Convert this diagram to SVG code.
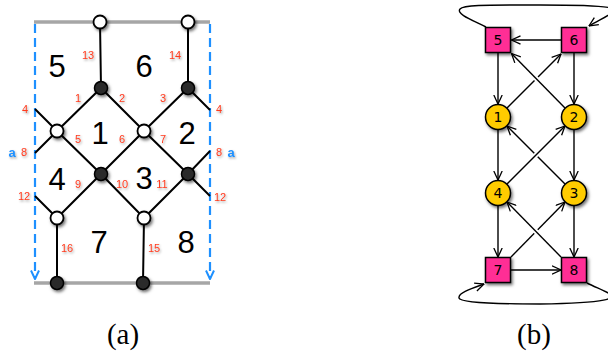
<svg xmlns="http://www.w3.org/2000/svg" width="608" height="354" viewBox="0 0 608 354">
<defs>
  <filter id="sh" x="-50%" y="-50%" width="200%" height="200%">
    <feDropShadow dx="1.5" dy="2" stdDeviation="1.6" flood-color="#000" flood-opacity="0.55"/>
  </filter>
  <filter id="tsh" x="-50%" y="-50%" width="200%" height="200%">
    <feDropShadow dx="1" dy="1.5" stdDeviation="1" flood-color="#000" flood-opacity="0.35"/>
  </filter>
  <marker id="ar" viewBox="0 0 10 10" refX="9.5" refY="5" markerWidth="10" markerHeight="10" markerUnits="userSpaceOnUse" orient="auto">
    <path d="M0.5,0.8 L9.5,5 L0.5,9.2" fill="none" stroke="#000" stroke-width="1.3"/>
  </marker>
  <marker id="bar" viewBox="0 0 10 10" refX="5" refY="9.5" markerWidth="10" markerHeight="10" markerUnits="userSpaceOnUse" orient="0">
    <path d="M1,1 L5,9.5 L9,1" fill="none" stroke="#1e90ff" stroke-width="2"/>
  </marker>
</defs>
<style>
  .edge{stroke:#000;stroke-width:2;fill:none}
  .bound{stroke:#a6a6a6;stroke-width:3.5;fill:none}
  .dash{stroke:#1e90ff;stroke-width:2.2;stroke-dasharray:9 5;fill:none}
  .wn{fill:#fff;stroke:#000;stroke-width:1.8;filter:url(#sh)}
  .bn{fill:#2a2a2a;stroke:#000;stroke-width:1.5;filter:url(#sh)}
  .face{font-family:"Liberation Sans",Arial,sans-serif;font-size:31px;fill:#000;text-anchor:middle}
  .el{font-family:"Liberation Sans",Arial,sans-serif;font-size:11px;fill:#ff3a1e;text-anchor:middle;filter:url(#tsh)}
  .al{font-family:"Liberation Sans",Arial,sans-serif;font-size:13px;font-weight:bold;fill:#1e90ff;text-anchor:middle;filter:url(#tsh)}
  .g{stroke:#000;stroke-width:1.4;fill:none}
  .gm{stroke:#000;stroke-width:1.4;fill:none;marker-end:url(#ar)}
  .halo{stroke:#fff;stroke-width:5;fill:none}
  .sq{fill:#ff2d95;stroke:#000;stroke-width:1.5;filter:url(#sh)}
  .ci{fill:#ffcc00;stroke:#000;stroke-width:1.5;filter:url(#sh)}
  .nl{font-family:"DejaVu Sans",sans-serif;font-size:14px;fill:#000;text-anchor:middle}
  .cap{font-family:"Liberation Serif","Times New Roman",serif;font-size:29px;fill:#000;text-anchor:middle}
</style>

<!-- ===== (a) ===== -->
<g id="a-connectors">
  <line class="bound" x1="34" y1="22" x2="210" y2="22"/>
  <line class="bound" x1="34" y1="283" x2="210" y2="283"/>
  <line class="dash" x1="35" y1="24" x2="35" y2="279" marker-end="url(#bar)"/>
  <line class="dash" x1="210" y1="24" x2="210" y2="279" marker-end="url(#bar)"/>
  <path class="edge" d="M100,22 L101,88 M188,22 L188,88"/>
  <path class="edge" d="M35,109 L57,131 L101,88 L144,131 L188,88 L210,110"/>
  <path class="edge" d="M35,153 L57,131 L101,174 L144,131 L188,174 L210,151"/>
  <path class="edge" d="M35,196 L57,218 L101,174 L144,218 L188,174 L210,196"/>
  <path class="edge" d="M57,218 L57,283 M144,218 L143,283"/>
</g>
<g id="a-nodes">
  <circle class="wn" cx="100" cy="22" r="6.5"/>
  <circle class="wn" cx="188" cy="22" r="6.5"/>
  <circle class="bn" cx="101" cy="88" r="6.5"/>
  <circle class="bn" cx="188" cy="88" r="6.5"/>
  <circle class="wn" cx="57" cy="131" r="6.5"/>
  <circle class="wn" cx="144" cy="131" r="6.5"/>
  <circle class="bn" cx="101" cy="174" r="6.5"/>
  <circle class="bn" cx="188" cy="174" r="6.5"/>
  <circle class="wn" cx="57" cy="218" r="6.5"/>
  <circle class="wn" cx="144" cy="218" r="6.5"/>
  <circle class="bn" cx="57" cy="283" r="6.5"/>
  <circle class="bn" cx="143" cy="283" r="6.5"/>
</g>
<g id="a-faces">
  <text class="face" x="57" y="77">5</text>
  <text class="face" x="144" y="77">6</text>
  <text class="face" x="100" y="144">1</text>
  <text class="face" x="187" y="144">2</text>
  <text class="face" x="57" y="190">4</text>
  <text class="face" x="144" y="189">3</text>
  <text class="face" x="99" y="253">7</text>
  <text class="face" x="186" y="253">8</text>
</g>
<g id="a-edge-labels">
  <text class="el" x="88" y="59">13</text>
  <text class="el" x="175" y="59">14</text>
  <text class="el" x="78" y="102">1</text>
  <text class="el" x="122" y="102">2</text>
  <text class="el" x="163" y="102">3</text>
  <text class="el" x="25" y="113">4</text>
  <text class="el" x="219" y="113">4</text>
  <text class="el" x="78" y="143">5</text>
  <text class="el" x="122" y="143">6</text>
  <text class="el" x="163" y="143">7</text>
  <text class="el" x="24" y="156">8</text>
  <text class="el" x="219" y="156">8</text>
  <text class="el" x="78" y="188">9</text>
  <text class="el" x="122" y="188">10</text>
  <text class="el" x="162" y="188">11</text>
  <text class="el" x="24" y="200">12</text>
  <text class="el" x="220" y="201">12</text>
  <text class="el" x="67" y="252">16</text>
  <text class="el" x="154" y="252">15</text>
  <text class="al" x="12" y="157">a</text>
  <text class="al" x="231" y="157">a</text>
</g>
<text class="cap" x="123" y="344">(a)</text>

<!-- ===== (b) ===== -->
<g id="b-connectors">
  <line class="gm" x1="561" y1="40" x2="511.5" y2="40"/>
  <line class="gm" x1="498" y1="53" x2="498" y2="104"/>
  <line class="gm" x1="574" y1="53" x2="574" y2="104"/>
  <line class="gm" x1="507" y1="108" x2="561" y2="54"/>
  <line class="halo" x1="558" y1="101" x2="518" y2="60"/>
  <line class="gm" x1="565" y1="108" x2="511.5" y2="53.5"/>
  <line class="gm" x1="498" y1="130" x2="498" y2="180"/>
  <line class="gm" x1="574" y1="130" x2="574" y2="180"/>
  <line class="gm" x1="565" y1="184" x2="507" y2="126"/>
  <line class="halo" x1="514" y1="177" x2="558" y2="133"/>
  <line class="gm" x1="507" y1="184" x2="565" y2="126"/>
  <line class="gm" x1="498" y1="206" x2="498" y2="257"/>
  <line class="gm" x1="574" y1="206" x2="574" y2="257"/>
  <line class="gm" x1="511" y1="257" x2="565" y2="202"/>
  <line class="halo" x1="554" y1="250" x2="514" y2="209"/>
  <line class="gm" x1="561" y1="257" x2="507" y2="202"/>
  <line class="gm" x1="511" y1="270" x2="561" y2="270"/>
  <path class="gm" d="M486,27 C472,20 456,14 460,9 C463,5 480,5 540,5 C580,5 610,6 613,9 C616,13 600,19 589,26"/>
  <path class="gm" d="M587,283 C595,287 605,291 610,294 C614,298 612,303 540,304 C500,304 460,303 459,298 C458,293 470,289 484,284"/>
</g>
<g id="b5"><rect class="sq" x="485.5" y="27.5" width="25" height="25"/><text class="nl" x="498" y="45">5</text></g>
<g id="b6"><rect class="sq" x="561.5" y="27.5" width="25" height="25"/><text class="nl" x="574" y="45">6</text></g>
<g id="b1"><circle class="ci" cx="498" cy="117" r="12.5"/><text class="nl" x="498" y="122">1</text></g>
<g id="b2"><circle class="ci" cx="574" cy="117" r="12.5"/><text class="nl" x="574" y="122">2</text></g>
<g id="b4"><circle class="ci" cx="498" cy="193" r="12.5"/><text class="nl" x="498" y="198">4</text></g>
<g id="b3"><circle class="ci" cx="574" cy="193" r="12.5"/><text class="nl" x="574" y="198">3</text></g>
<g id="b7"><rect class="sq" x="485.5" y="257.5" width="25" height="25"/><text class="nl" x="498" y="275">7</text></g>
<g id="b8"><rect class="sq" x="561.5" y="257.5" width="25" height="25"/><text class="nl" x="574" y="275">8</text></g>
<text class="cap" x="534" y="344">(b)</text>
</svg>
